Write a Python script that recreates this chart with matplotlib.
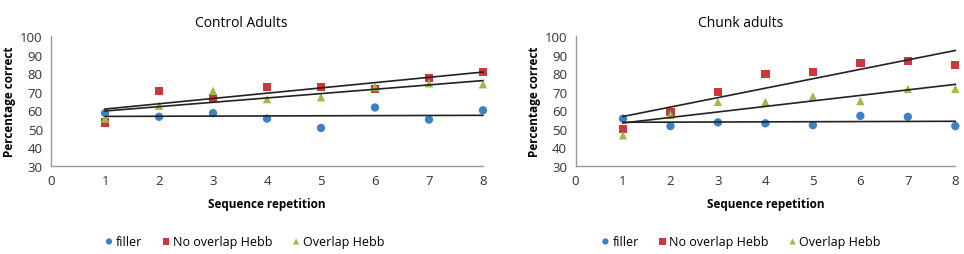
import numpy as np
import matplotlib
matplotlib.use("Agg")
import matplotlib.pyplot as plt

# ============================================
# DATA
# ============================================
reps = [1, 2, 3, 4, 5, 6, 7, 8]
series = ["filler", "No overlap Hebb", "Overlap Hebb"]

control_filler  = [58.5, 56.5, 58.5, 55.5, 50.5, 61.5, 55, 60]
control_nohebb  = [53.5, 70.5, 66.5, 72.5, 72.5, 71.5, 77.5, 80.5]
control_ovhebb  = [55.5, 62.5, 70.5, 66, 67, 72.5, 74.5, 74]

chunk_filler    = [55.5, 51.5, 53.5, 53, 52, 57, 56.5, 51.5]
chunk_nohebb    = [50, 59, 70, 79.5, 80.5, 85.5, 86.5, 84.5]
chunk_ovhebb    = [46.5, 57.5, 64.5, 64.5, 67.5, 65, 71.5, 71.5]

titles = ["Control Adults", "Chunk adults"]

colors  = ["#3F7FC4", "#C8393B", "#9BBB4A"]
markers = ["o", "s", "^"]

# ============================================
# PLOT
# ============================================
plt.rcParams["font.family"] = ["Open Sans", "DejaVu Sans"]

fig = plt.figure(figsize=(9.64, 2.55), dpi=100)
ax1 = fig.add_axes([0.053, 0.345, 0.448, 0.51])
ax2 = fig.add_axes([0.597, 0.345, 0.394, 0.51])

panels = [
    (ax1, [control_filler, control_nohebb, control_ovhebb]),
    (ax2, [chunk_filler, chunk_nohebb, chunk_ovhebb]),
]

x = np.array(reps)
for (ax, data), title in zip(panels, titles):
    for vals, name, c, m in zip(data, series, colors, markers):
        ax.scatter(x, vals, marker=m, s=36, color=c, label=name,
                   zorder=3, clip_on=False, edgecolors="none")
        # linear trendline (Excel style)
        k, b = np.polyfit(x, vals, 1)
        ax.plot(x, k * x + b, color="#222222", lw=1.2, zorder=4, clip_on=False)

    ax.set_xlim(0, 8)
    ax.set_ylim(30, 100)
    ax.set_xticks(range(0, 9))
    ax.set_yticks(range(30, 101, 10))
    ax.tick_params(length=0, labelsize=9.5, colors="#333333", pad=6)
    for s in ["top", "right"]:
        ax.spines[s].set_visible(False)
    for s in ["left", "bottom"]:
        ax.spines[s].set_color("#999999")
        ax.spines[s].set_linewidth(1.0)
    ax.set_xlabel("Sequence repetition", fontsize=8.5, fontweight="bold", labelpad=7)
    ax.set_ylabel("Percentage correct", fontsize=8.5, fontweight="bold", labelpad=3)

fig.text(0.25, 0.88, titles[0], ha="center", va="bottom", fontsize=10)
fig.text(0.768, 0.88, titles[1], ha="center", va="bottom", fontsize=10)

for ax, cx in [(ax1, 0.254), (ax2, 0.769)]:
    h, l = ax.get_legend_handles_labels()
    fig.legend(h, l, loc="center", bbox_to_anchor=(cx, 0.05), ncol=3,
               frameon=False, fontsize=9, handlelength=0.6, handletextpad=0.25,
               columnspacing=1.6, markerscale=0.75)

plt.savefig("out.png", dpi=100)
